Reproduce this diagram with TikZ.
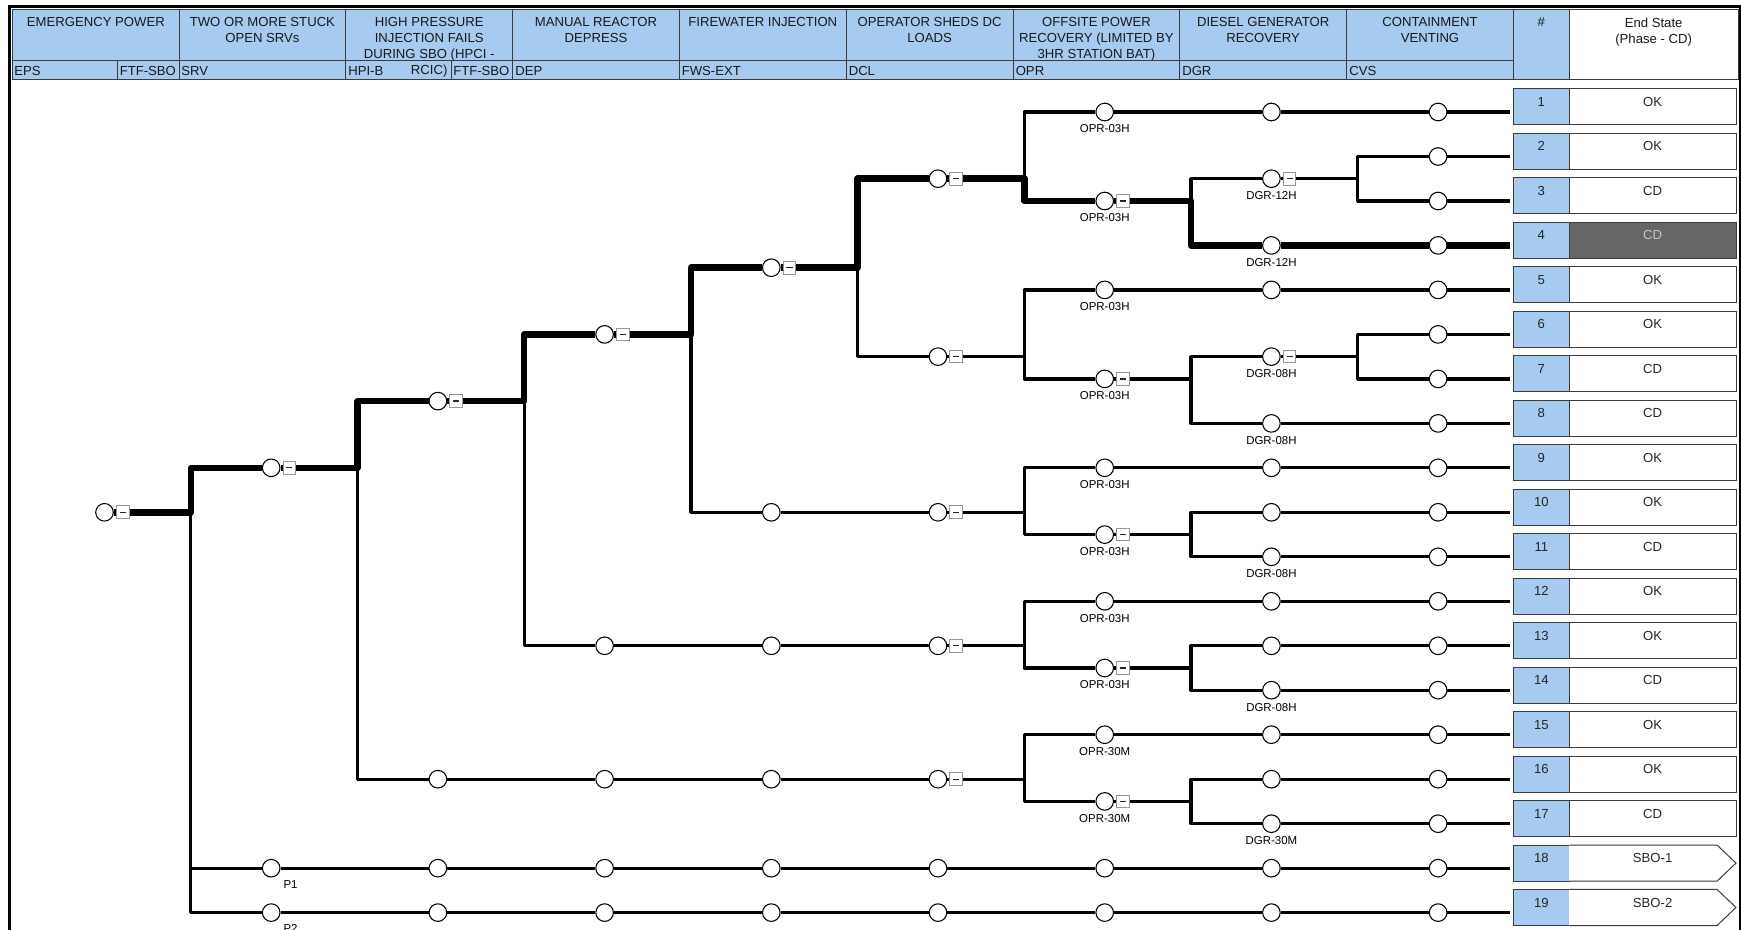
\documentclass[tikz,border=0pt]{standalone}
\usepackage{fontspec}
\setmainfont{Liberation Sans}
\usepackage{tikz}
\usetikzlibrary{positioning}

\definecolor{hdrblue}{RGB}{166,202,240}
\definecolor{cellline}{RGB}{60,60,60}
\definecolor{flaggray}{RGB}{150,150,150}
\definecolor{cdgray}{RGB}{102,102,102}
\definecolor{cdtext}{RGB}{200,200,200}

\begin{document}
\begin{tikzpicture}[x=0.75pt,y=0.75pt,yscale=-1,xscale=1,
	ev/.style={circle,draw=black,fill=white,line width=0.8pt,minimum size=13.2pt,inner sep=0pt},
	flag/.style={rectangle,draw=flaggray,fill=white,line width=0.75pt,minimum size=9.5pt,inner sep=0pt,
		path picture={\draw[black!85,line width=1pt] ([xshift=-2.3pt]path picture bounding box.center) -- ([xshift=2.3pt]path picture bounding box.center);}},
	thinbr/.style={line width=2.5pt,line join=round},
	thickbr/.style={line width=4.8pt,line join=round},
	lbl/.style={font=\fontsize{8.6}{10}\selectfont,inner sep=2.4pt},
	hdr/.style={font=\fontsize{9.85}{12}\selectfont,align=center,anchor=north,inner sep=0pt,text=black!90},
	subhdr/.style={font=\fontsize{9.85}{12}\selectfont,anchor=base west,inner sep=0pt,text=black!90},
	numbox/.style={draw=cellline,fill=hdrblue,line width=0.75pt,minimum width=42pt,inner sep=0pt,outer sep=2.25pt,
		text height=13.2pt,text depth=13.95pt,anchor=base,font=\fontsize{9.85}{12}\selectfont,text=black!85},
	endbox/.style={draw=cellline,fill=white,line width=0.75pt,minimum width=125pt,inner sep=0pt,outer sep=0pt,
		text height=13.2pt,text depth=13.95pt,anchor=base,font=\fontsize{9.85}{12}\selectfont,text=black!85}
	]
	\useasboundingbox (0,0) rectangle (1741,930);
	\fill[white] (0,0) rectangle (1741,930);
	
	%Shape: Header
	\fill[hdrblue] (12.7,9.3) rectangle (1569.3,80);
	
	% Text Node
	\node[hdr] (h-eps) at (95.9,17.3) {EMERGENCY POWER};
	\node[hdr] (h-srv) at (262.4,17.3) {TWO OR MORE STUCK\\OPEN SRVs};
	\node[hdr] (h-hpi) at (429.2,17.3) {HIGH PRESSURE\\INJECTION FAILS\\DURING SBO (HPCI -\\RCIC)};
	\node[hdr] (h-dep) at (596.0,17.3) {MANUAL REACTOR\\DEPRESS};
	\node[hdr] (h-fws) at (762.8,17.3) {FIREWATER INJECTION};
	\node[hdr] (h-dcl) at (929.6,17.3) {OPERATOR SHEDS DC\\LOADS};
	\node[hdr] (h-opr) at (1096.4,17.3) {OFFSITE POWER\\RECOVERY (LIMITED BY\\3HR STATION BAT)};
	\node[hdr] (h-dgr) at (1263.2,17.3) {DIESEL GENERATOR\\RECOVERY};
	\node[hdr] (h-cvs) at (1430.0,17.3) {CONTAINMENT\\VENTING};
	\node[hdr] (h-num) at (1541.35,17.3) {\#};
	\node[hdr] (h-end) at (1653.65,17.3) {End State\\(Phase - CD)};
	% Text Node
	\node[subhdr] (t-eps) at (14,75.5) {EPS};
	\node[subhdr] (t-ftf1) at (119.5,75.5) {FTF-SBO};
	\node[subhdr] (t-srv) at (181,75.5) {SRV};
	\node[subhdr] (t-hpi) at (348,75.5) {HPI-B};
	\node[subhdr] (t-ftf2) at (453,75.5) {FTF-SBO};
	\node[subhdr] (t-dep) at (515,75.5) {DEP};
	\node[subhdr] (t-fws) at (681.5,75.5) {FWS-EXT};
	\node[subhdr] (t-dcl) at (848.5,75.5) {DCL};
	\node[subhdr] (t-opr) at (1015.5,75.5) {OPR};
	\node[subhdr] (t-dgr) at (1182,75.5) {DGR};
	\node[subhdr] (t-cvs) at (1349,75.5) {CVS};
	
	%Straight Lines: header cells
	\draw[cellline,line width=0.75pt] (12.7,9.3) rectangle (1738.3,80);
	\draw[cellline,line width=0.75pt] (179,9.3) -- (179,80) (345.8,9.3) -- (345.8,80) (512.6,9.3) -- (512.6,80) (679.4,9.3) -- (679.4,80) (846.2,9.3) -- (846.2,80) (1013,9.3) -- (1013,80) (1179.8,9.3) -- (1179.8,80) (1346.6,9.3) -- (1346.6,80) (1513.4,9.3) -- (1513.4,80) (1569.3,9.3) -- (1569.3,80);
	\draw[cellline,line width=0.75pt] (12.7,61) -- (1513.4,61) (117,61) -- (117,80) (451,61) -- (451,80);
	%Straight Lines: frame
	\draw[line width=1.9pt] (8,6.7) -- (1741,6.7);
	\draw[line width=2.3pt] (9.8,5.8) -- (9.8,930);
	\draw[line width=1.5pt] (1739.6,5.8) -- (1739.6,930);
	
	%Shape: End state boxes
	\node[numbox] (n1) at (1541.35,106.4) {1};
	\node[endbox] (s1) at (1652.65,106.4) {OK};
	\node[numbox] (n2) at (1541.35,150.9) {2};
	\node[endbox] (s2) at (1652.65,150.9) {OK};
	\node[numbox] (n3) at (1541.35,195.4) {3};
	\node[endbox] (s3) at (1652.65,195.4) {CD};
	\node[numbox] (n4) at (1541.35,239.8) {4};
	\node[endbox,fill=cdgray,text=cdtext] (s4) at (1652.65,239.8) {CD};
	\node[numbox] (n5) at (1541.35,284.3) {5};
	\node[endbox] (s5) at (1652.65,284.3) {OK};
	\node[numbox] (n6) at (1541.35,328.8) {6};
	\node[endbox] (s6) at (1652.65,328.8) {OK};
	\node[numbox] (n7) at (1541.35,373.3) {7};
	\node[endbox] (s7) at (1652.65,373.3) {CD};
	\node[numbox] (n8) at (1541.35,417.8) {8};
	\node[endbox] (s8) at (1652.65,417.8) {CD};
	\node[numbox] (n9) at (1541.35,462.2) {9};
	\node[endbox] (s9) at (1652.65,462.2) {OK};
	\node[numbox] (n10) at (1541.35,506.7) {10};
	\node[endbox] (s10) at (1652.65,506.7) {OK};
	\node[numbox] (n11) at (1541.35,551.2) {11};
	\node[endbox] (s11) at (1652.65,551.2) {CD};
	\node[numbox] (n12) at (1541.35,595.7) {12};
	\node[endbox] (s12) at (1652.65,595.7) {OK};
	\node[numbox] (n13) at (1541.35,640.2) {13};
	\node[endbox] (s13) at (1652.65,640.2) {OK};
	\node[numbox] (n14) at (1541.35,684.6) {14};
	\node[endbox] (s14) at (1652.65,684.6) {CD};
	\node[numbox] (n15) at (1541.35,729.1) {15};
	\node[endbox] (s15) at (1652.65,729.1) {OK};
	\node[numbox] (n16) at (1541.35,773.6) {16};
	\node[endbox] (s16) at (1652.65,773.6) {OK};
	\node[numbox] (n17) at (1541.35,818.1) {17};
	\node[endbox] (s17) at (1652.65,818.1) {CD};
	\node[numbox] (n18) at (1541.35,862.6) {18};
	\node[endbox,draw=none] (s18) at (1652.65,862.6) {SBO-1};
	\node[numbox] (n19) at (1541.35,907.0) {19};
	\node[endbox,draw=none] (s19) at (1652.65,907.0) {SBO-2};
	\draw[cellline,line width=0.75pt] (s18.north west) -- ([xshift=-14.25pt]s18.north east) -- (s18.east) -- ([xshift=-14.25pt]s18.south east) -- (s18.south west);
	\draw[cellline,line width=0.75pt] (s19.north west) -- ([xshift=-14.25pt]s19.north east) -- (s19.east) -- ([xshift=-14.25pt]s19.south east) -- (s19.south west);
	
	%Shape: Circle
	\node[ev] (eps) at (104.5,512.3) {};
	
	\node[ev] (srv9) at (271.2,467.8) {};
	\node[ev] (srv18) at (271.2,868.2) {};
	\node[ev] (srv19) at (271.2,912.6) {};
	
	\node[ev] (hpi7h) at (437.9,401.1) {};
	\node[ev] (hpi16) at (437.9,779.2) {};
	\node[ev] (hpi18) at (437.9,868.2) {};
	\node[ev] (hpi19) at (437.9,912.6) {};
	
	\node[ev] (dep6) at (604.6,334.4) {};
	\node[ev] (dep13) at (604.6,645.8) {};
	\node[ev] (dep16) at (604.6,779.2) {};
	\node[ev] (dep18) at (604.6,868.2) {};
	\node[ev] (dep19) at (604.6,912.6) {};
	
	\node[ev] (fws4h) at (771.3,267.7) {};
	\node[ev] (fws10) at (771.3,512.3) {};
	\node[ev] (fws13) at (771.3,645.8) {};
	\node[ev] (fws16) at (771.3,779.2) {};
	\node[ev] (fws18) at (771.3,868.2) {};
	\node[ev] (fws19) at (771.3,912.6) {};
	
	\node[ev] (dcl2h) at (938.0,178.7) {};
	\node[ev] (dcl6h) at (938.0,356.6) {};
	\node[ev] (dcl10) at (938.0,512.3) {};
	\node[ev] (dcl13) at (938.0,645.8) {};
	\node[ev] (dcl16) at (938.0,779.2) {};
	\node[ev] (dcl18) at (938.0,868.2) {};
	\node[ev] (dcl19) at (938.0,912.6) {};
	
	\node[ev] (opr1) at (1104.7,112.0) {};
	\node[ev] (opr3) at (1104.7,201.0) {};
	\node[ev] (opr5) at (1104.7,289.9) {};
	\node[ev] (opr7) at (1104.7,378.9) {};
	\node[ev] (opr9) at (1104.7,467.8) {};
	\node[ev] (opr10h) at (1104.7,534.6) {};
	\node[ev] (opr12) at (1104.7,601.3) {};
	\node[ev] (opr13h) at (1104.7,668.0) {};
	\node[ev] (opr15) at (1104.7,734.7) {};
	\node[ev] (opr16h) at (1104.7,801.4) {};
	\node[ev] (opr18) at (1104.7,868.2) {};
	\node[ev] (opr19) at (1104.7,912.6) {};
	
	\node[ev] (dgr1) at (1271.4,112.0) {};
	\node[ev] (dgr2h) at (1271.4,178.7) {};
	\node[ev] (dgr4) at (1271.4,245.4) {};
	\node[ev] (dgr5) at (1271.4,289.9) {};
	\node[ev] (dgr6h) at (1271.4,356.6) {};
	\node[ev] (dgr8) at (1271.4,423.4) {};
	\node[ev] (dgr9) at (1271.4,467.8) {};
	\node[ev] (dgr10) at (1271.4,512.3) {};
	\node[ev] (dgr11) at (1271.4,556.8) {};
	\node[ev] (dgr12) at (1271.4,601.3) {};
	\node[ev] (dgr13) at (1271.4,645.8) {};
	\node[ev] (dgr14) at (1271.4,690.2) {};
	\node[ev] (dgr15) at (1271.4,734.7) {};
	\node[ev] (dgr16) at (1271.4,779.2) {};
	\node[ev] (dgr17) at (1271.4,823.7) {};
	\node[ev] (dgr18) at (1271.4,868.2) {};
	\node[ev] (dgr19) at (1271.4,912.6) {};
	
	\node[ev] (cvs1) at (1438.1,112.0) {};
	\node[ev] (cvs2) at (1438.1,156.5) {};
	\node[ev] (cvs3) at (1438.1,201.0) {};
	\node[ev] (cvs4) at (1438.1,245.4) {};
	\node[ev] (cvs5) at (1438.1,289.9) {};
	\node[ev] (cvs6) at (1438.1,334.4) {};
	\node[ev] (cvs7) at (1438.1,378.9) {};
	\node[ev] (cvs8) at (1438.1,423.4) {};
	\node[ev] (cvs9) at (1438.1,467.8) {};
	\node[ev] (cvs10) at (1438.1,512.3) {};
	\node[ev] (cvs11) at (1438.1,556.8) {};
	\node[ev] (cvs12) at (1438.1,601.3) {};
	\node[ev] (cvs13) at (1438.1,645.8) {};
	\node[ev] (cvs14) at (1438.1,690.2) {};
	\node[ev] (cvs15) at (1438.1,734.7) {};
	\node[ev] (cvs16) at (1438.1,779.2) {};
	\node[ev] (cvs17) at (1438.1,823.7) {};
	\node[ev] (cvs18) at (1438.1,868.2) {};
	\node[ev] (cvs19) at (1438.1,912.6) {};
	
	% branch points
	\coordinate (x0) at (190.8,512.3);
	\coordinate (x1) at (357.5,467.8);
	\coordinate (x2) at (524.2,401.1);
	\coordinate (x3) at (690.9,334.4);
	\coordinate (x4) at (857.6,267.7);
	\coordinate (x5) at (1024.3,178.7);
	\coordinate (x6) at (1191.0,201.0);
	\coordinate (x7) at (1357.7,178.7);
	\coordinate (y5) at (1024.3,356.6);
	\coordinate (y6) at (1191.0,378.9);
	\coordinate (y7) at (1357.7,356.6);
	\coordinate (z5) at (1024.3,512.3);
	\coordinate (z6) at (1191.0,534.6);
	\coordinate (w5) at (1024.3,645.8);
	\coordinate (w6) at (1191.0,668.0);
	\coordinate (v5) at (1024.3,779.2);
	\coordinate (v6) at (1191.0,801.4);
	
	%Straight Lines: thin branches
	\draw[thinbr] (x0) |- (srv18) -- (hpi18) -- (dep18) -- (fws18) -- (dcl18) -- (opr18) -- (dgr18) -- (cvs18) -- (cvs18 -| n18.west);
	\draw[thinbr] (x0) |- (srv19) -- (hpi19) -- (dep19) -- (fws19) -- (dcl19) -- (opr19) -- (dgr19) -- (cvs19) -- (cvs19 -| n19.west);
	
	\draw[thinbr] (x1) |- (hpi16) -- (dep16) -- (fws16) -- (dcl16) -- (v5);
	\draw[thinbr] (v5) |- (opr15) -- (dgr15) -- (cvs15) -- (cvs15 -| n15.west);
	\draw[thinbr] (v5) |- (opr16h) -- (v6);
	\draw[thinbr] (v6) |- (dgr16) -- (cvs16) -- (cvs16 -| n16.west);
	\draw[thinbr] (v6) |- (dgr17) -- (cvs17) -- (cvs17 -| n17.west);
	
	\draw[thinbr] (x2) |- (dep13) -- (fws13) -- (dcl13) -- (w5);
	\draw[thinbr] (w5) |- (opr12) -- (dgr12) -- (cvs12) -- (cvs12 -| n12.west);
	\draw[thinbr] (w5) |- (opr13h) -- (w6);
	\draw[thinbr] (w6) |- (dgr13) -- (cvs13) -- (cvs13 -| n13.west);
	\draw[thinbr] (w6) |- (dgr14) -- (cvs14) -- (cvs14 -| n14.west);
	
	\draw[thinbr] (x3) |- (fws10) -- (dcl10) -- (z5);
	\draw[thinbr] (z5) |- (opr9) -- (dgr9) -- (cvs9) -- (cvs9 -| n9.west);
	\draw[thinbr] (z5) |- (opr10h) -- (z6);
	\draw[thinbr] (z6) |- (dgr10) -- (cvs10) -- (cvs10 -| n10.west);
	\draw[thinbr] (z6) |- (dgr11) -- (cvs11) -- (cvs11 -| n11.west);
	
	\draw[thinbr] (x4) |- (dcl6h) -- (y5);
	\draw[thinbr] (y5) |- (opr5) -- (dgr5) -- (cvs5) -- (cvs5 -| n5.west);
	\draw[thinbr] (y5) |- (opr7) -- (y6);
	\draw[thinbr] (y6) |- (dgr6h) -- (y7);
	\draw[thinbr] (y7) |- (cvs6) -- (cvs6 -| n6.west);
	\draw[thinbr] (y7) |- (cvs7) -- (cvs7 -| n7.west);
	\draw[thinbr] (y6) |- (dgr8) -- (cvs8) -- (cvs8 -| n8.west);
	
	\draw[thinbr] (x5) |- (opr1) -- (dgr1) -- (cvs1) -- (cvs1 -| n1.west);
	\draw[thinbr] (x6) |- (dgr2h) -- (x7);
	\draw[thinbr] (x7) |- (cvs2) -- (cvs2 -| n2.west);
	\draw[thinbr] (x7) |- (cvs3) -- (cvs3 -| n3.west);
	
	%Straight Lines: thick sequence
	\draw[thickbr] (eps) -- (x0) |- (srv9) -- (x1) |- (hpi7h) -- (x2) |- (dep6) -- (x3) |- (fws4h) -- (x4) |- (dcl2h) -- (x5) |- (opr3) -- (x6) |- (dgr4) -- (cvs4) -- (cvs4 -| n4.west);
	
	%Shape: Square flags
	\node[flag,right=1.5pt of eps] (f-eps) {};
	\node[flag,right=1.5pt of srv9] (f-srv9) {};
	\node[flag,right=1.5pt of hpi7h] (f-hpi7h) {};
	\node[flag,right=1.5pt of dep6] (f-dep6) {};
	\node[flag,right=1.5pt of fws4h] (f-fws4h) {};
	\node[flag,right=1.5pt of dcl2h] (f-dcl2h) {};
	\node[flag,right=1.5pt of dcl6h] (f-dcl6h) {};
	\node[flag,right=1.5pt of dcl10] (f-dcl10) {};
	\node[flag,right=1.5pt of dcl13] (f-dcl13) {};
	\node[flag,right=1.5pt of dcl16] (f-dcl16) {};
	\node[flag,right=1.5pt of opr3] (f-opr3) {};
	\node[flag,right=1.5pt of opr7] (f-opr7) {};
	\node[flag,right=1.5pt of opr10h] (f-opr10h) {};
	\node[flag,right=1.5pt of opr13h] (f-opr13h) {};
	\node[flag,right=1.5pt of opr16h] (f-opr16h) {};
	\node[flag,right=1.5pt of dgr2h] (f-dgr2h) {};
	\node[flag,right=1.5pt of dgr6h] (f-dgr6h) {};
	
	% Text Node
	\node[lbl,below=0pt of opr1] (l-opr1) {OPR-03H};
	\node[lbl,below=0pt of opr3] (l-opr3) {OPR-03H};
	\node[lbl,below=0pt of opr5] (l-opr5) {OPR-03H};
	\node[lbl,below=0pt of opr7] (l-opr7) {OPR-03H};
	\node[lbl,below=0pt of opr9] (l-opr9) {OPR-03H};
	\node[lbl,below=0pt of opr10h] (l-opr10h) {OPR-03H};
	\node[lbl,below=0pt of opr12] (l-opr12) {OPR-03H};
	\node[lbl,below=0pt of opr13h] (l-opr13h) {OPR-03H};
	\node[lbl,below=0pt of opr15] (l-opr15) {OPR-30M};
	\node[lbl,below=0pt of opr16h] (l-opr16h) {OPR-30M};
	\node[lbl,below=0pt of dgr2h] (l-dgr2h) {DGR-12H};
	\node[lbl,below=0pt of dgr4] (l-dgr4) {DGR-12H};
	\node[lbl,below=0pt of dgr6h] (l-dgr6h) {DGR-08H};
	\node[lbl,below=0pt of dgr8] (l-dgr8) {DGR-08H};
	\node[lbl,below=0pt of dgr11] (l-dgr11) {DGR-08H};
	\node[lbl,below=0pt of dgr14] (l-dgr14) {DGR-08H};
	\node[lbl,below=0pt of dgr17] (l-dgr17) {DGR-30M};
	\node[lbl,anchor=north west,inner sep=0pt] (l-p1) at (283.3,880) {P1};
	\node[lbl,anchor=north west,inner sep=0pt] (l-p2) at (283.3,924.4) {P2};
	
\end{tikzpicture}
\end{document}
